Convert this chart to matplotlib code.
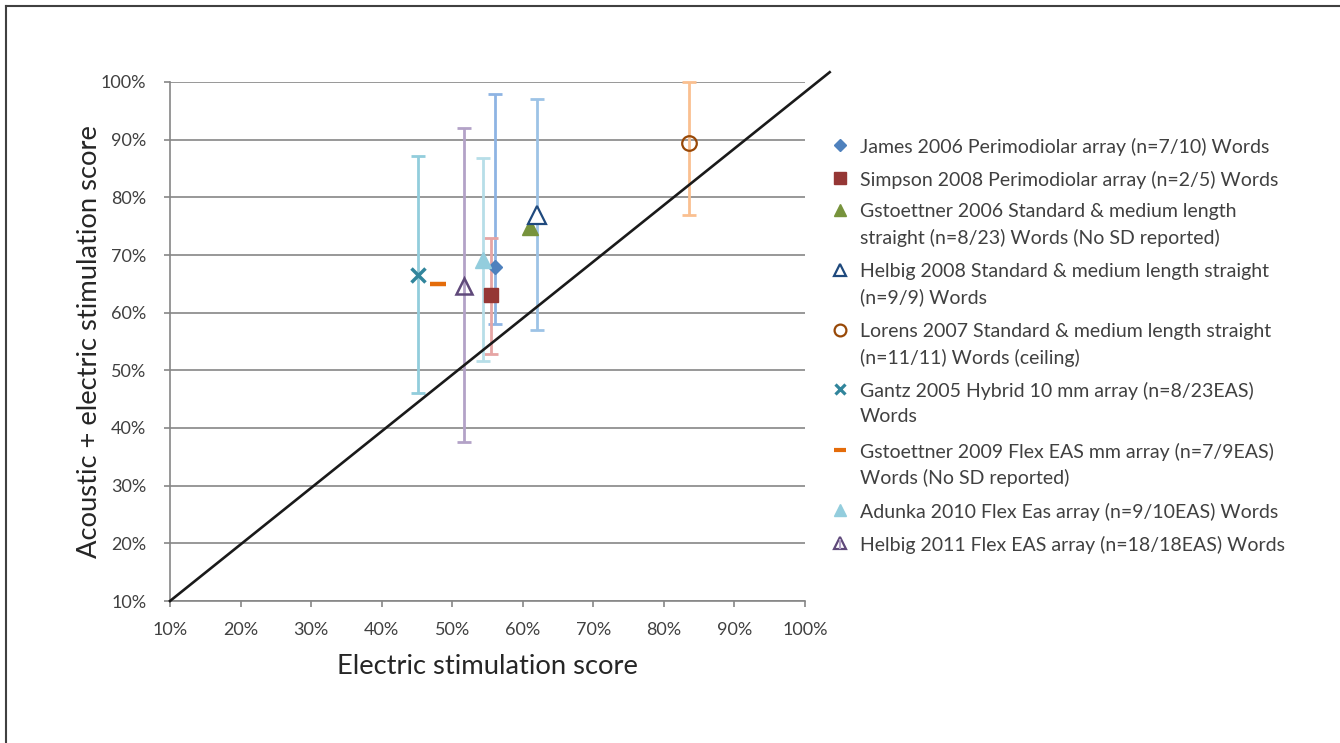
import matplotlib
matplotlib.use("Agg")
import matplotlib.pyplot as plt
from matplotlib.lines import Line2D
from matplotlib.ticker import FuncFormatter

plt.rcParams['font.family'] = ['Lato', 'DejaVu Sans']

# ---------------- data ----------------
labels = [
    "James 2006 Perimodiolar array (n=7/10) Words",
    "Simpson 2008 Perimodiolar array (n=2/5) Words",
    "Gstoettner 2006 Standard & medium length\nstraight (n=8/23) Words (No SD reported)",
    "Helbig 2008 Standard & medium length straight\n(n=9/9) Words",
    "Lorens 2007 Standard & medium length straight\n(n=11/11) Words (ceiling)",
    "Gantz 2005 Hybrid 10 mm array (n=8/23EAS)\nWords",
    "Gstoettner 2009 Flex EAS mm array (n=7/9EAS)\nWords (No SD reported)",
    "Adunka 2010 Flex Eas array (n=9/10EAS) Words",
    "Helbig 2011 Flex EAS array (n=18/18EAS) Words",
]
electric = [56.1, 55.5, 61.0, 62.0, 83.6, 45.1, 48.0, 54.3, 51.7]
combined = [68.0, 63.0, 74.9, 76.9, 89.5, 66.6, 65.0, 69.2, 64.7]
sd_low = [58.0, 52.9, None, 57.0, 77.0, 46.0, None, 51.7, 37.6]
sd_high = [98.0, 72.9, None, 97.0, 100.0, 87.2, None, 86.8, 92.0]
diag_x = [10, 103.5]
diag_y = [10, 101.7]
ticks = [10, 20, 30, 40, 50, 60, 70, 80, 90, 100]

# ---------------- styles ----------------
styles = [
    dict(marker='D', ms=7.5, mfc='#4F81BD', mec='#4F81BD', mew=1),
    dict(marker='s', ms=10, mfc='#953735', mec='#953735', mew=1),
    dict(marker='^', ms=11, mfc='#77933C', mec='#77933C', mew=1),
    dict(marker='^', ms=13, mfc='white', mec='#1F497D', mew=1.6),
    dict(marker='o', ms=10.5, mfc='none', mec='#984807', mew=1.6),
    dict(marker='x', ms=9.5, mfc='#31859C', mec='#31859C', mew=2.5),
    dict(marker='_', ms=11, mfc='#E46C0A', mec='#E46C0A', mew=3.2),
    dict(marker='^', ms=11, mfc='#93CDDD', mec='#93CDDD', mew=1),
    dict(marker='^', ms=11, mfc='none', mec='#5F497A', mew=1.8),
]
bar_colors = ['#8EB4E3', '#E6A5A4', None, '#9DC3E6', '#FAC090',
              '#92CDDC', None, '#B7DEE8', '#B3A2C7']

W, H = 1340, 743
fig = plt.figure(figsize=(W / 100, H / 100), dpi=100)


def fx(px):
    return px / W


def fy(py):
    return 1 - py / H


ax = fig.add_axes([fx(170), fy(601), fx(805) - fx(170), fy(82) - fy(601)])
ax.set_xlim(10, 100)
ax.set_ylim(10, 100)

grid_c = '#868686'
ax.set_xticks(ticks)
ax.set_yticks(ticks)
fmt = FuncFormatter(lambda v, p: f"{v:.0f}%")
ax.xaxis.set_major_formatter(fmt)
ax.yaxis.set_major_formatter(fmt)
ax.yaxis.grid(True, color=grid_c, lw=1.2, zorder=0)
ax.set_axisbelow(True)
for s in ['top', 'right']:
    ax.spines[s].set_visible(False)
for s in ['left', 'bottom']:
    ax.spines[s].set_color(grid_c)
    ax.spines[s].set_linewidth(1.2)
ax.tick_params(axis='both', colors=grid_c, length=4, width=1.2,
               labelcolor='#404040', labelsize=13)
ax.tick_params(axis='x', pad=11)
ax.tick_params(axis='y', pad=13)

# error bars
for i in range(len(labels)):
    if sd_low[i] is None:
        continue
    yerr = [[combined[i] - sd_low[i]], [sd_high[i] - combined[i]]]
    ax.errorbar([electric[i]], [combined[i]], yerr=yerr, fmt='none',
                ecolor=bar_colors[i], elinewidth=2.0, capsize=5,
                capthick=2.0, zorder=2, clip_on=False)

# diagonal line
ax.plot(diag_x, diag_y, color='#1a1a1a', lw=1.9, zorder=3, clip_on=False)

# markers
for i in range(len(labels)):
    ax.plot([electric[i]], [combined[i]], ls='none', zorder=4,
            clip_on=False, **styles[i])

ax.set_xlabel("Electric stimulation score", fontsize=19.7, color='#262626',
              labelpad=12)
ax.set_ylabel("Acoustic + electric stimulation score", fontsize=19.7,
              color='#262626', labelpad=-1)

# legend (manual)
leg_y = [145, 178, 210, 270, 330, 389, 450, 510, 543]
line_gap = 26
leg_styles = [
    dict(marker='D', ms=6, mfc='#4F81BD', mec='#4F81BD', mew=1),
    dict(marker='s', ms=8.5, mfc='#953735', mec='#953735', mew=1),
    dict(marker='^', ms=9, mfc='#77933C', mec='#77933C', mew=1),
    dict(marker='^', ms=9, mfc='white', mec='#1F497D', mew=1.6),
    dict(marker='o', ms=8.5, mfc='none', mec='#984807', mew=1.6),
    dict(marker='x', ms=7.5, mfc='#31859C', mec='#31859C', mew=2.3),
    dict(marker='_', ms=9, mfc='#E46C0A', mec='#E46C0A', mew=3),
    dict(marker='^', ms=9, mfc='#93CDDD', mec='#93CDDD', mew=1),
    dict(marker='^', ms=9, mfc='none', mec='#5F497A', mew=1.6),
]
for i, lab in enumerate(labels):
    y = leg_y[i]
    fig.add_artist(Line2D([fx(840)], [fy(y)], transform=fig.transFigure,
                          ls='none', **leg_styles[i]))
    if i == 8:
        fig.add_artist(Line2D([fx(840), fx(840)], [fy(y - 3), fy(y + 5)],
                              transform=fig.transFigure, color='#B3A2C7',
                              lw=1.5))
    for k, part in enumerate(lab.split("\n")):
        fig.text(fx(860), fy(y + k * line_gap), part, ha='left',
                 va='center_baseline', fontsize=14, color='#404040',
                 transform=fig.transFigure)

# figure border
fig.add_artist(Line2D([fx(5.5), fx(5.5)], [0, fy(5.5)],
                      transform=fig.transFigure, color='#404040', lw=1.5))
fig.add_artist(Line2D([fx(5.5), 1], [fy(5.5), fy(5.5)],
                      transform=fig.transFigure, color='#404040', lw=1.5))

fig.savefig("out.png", dpi=100)
